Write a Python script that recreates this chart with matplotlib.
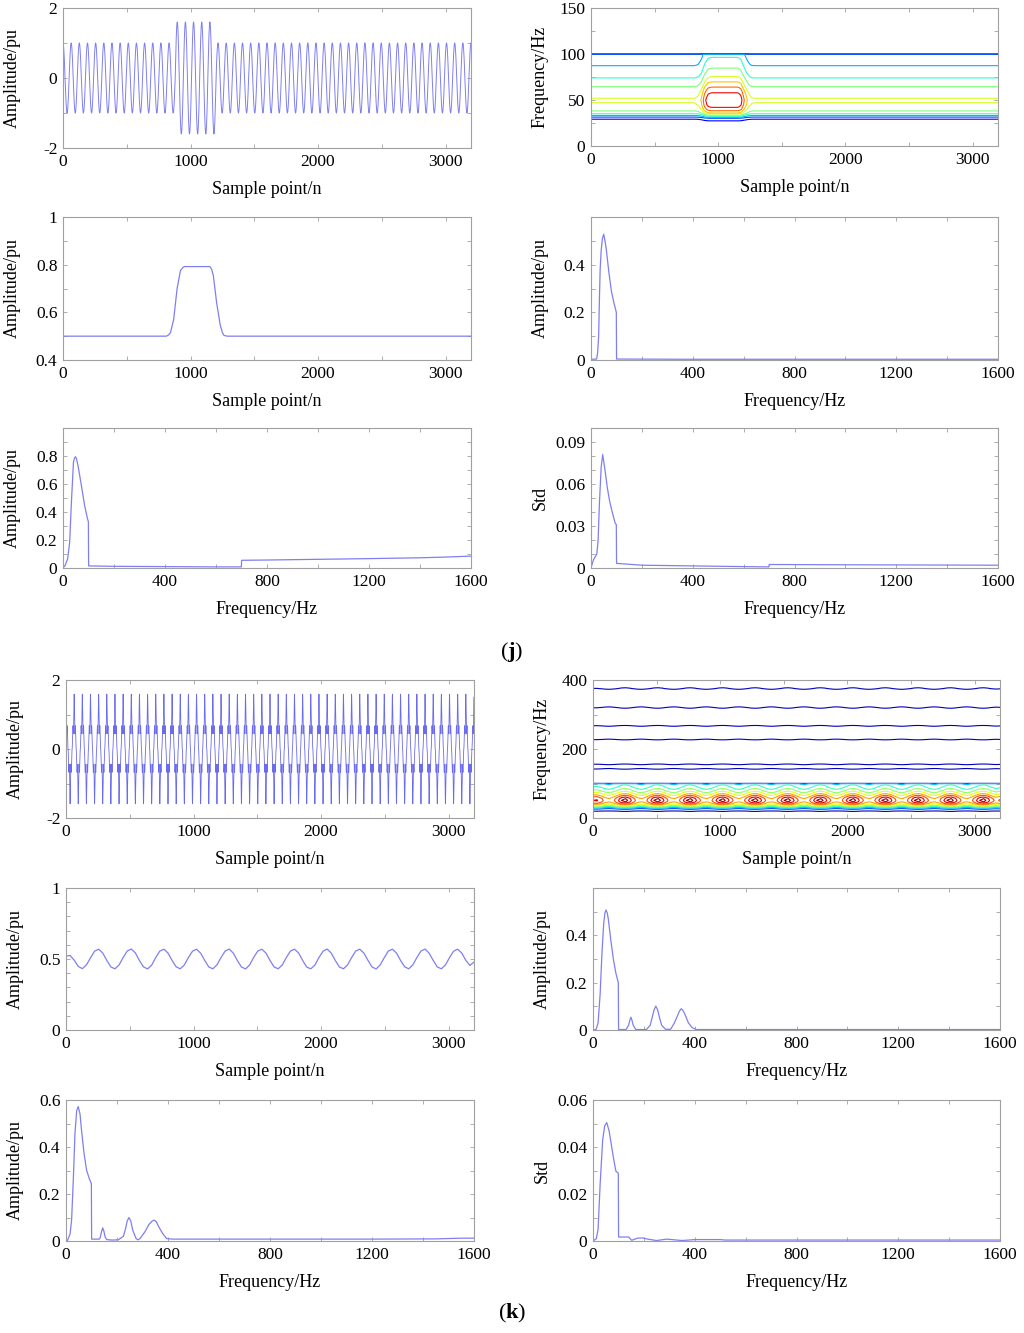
import numpy as np
import matplotlib
matplotlib.use('Agg')
import matplotlib.pyplot as plt
from matplotlib.ticker import MultipleLocator, FixedLocator, FuncFormatter

plt.rcParams['font.family'] = ['Liberation Serif', 'DejaVu Serif']
plt.rcParams['mathtext.fontset'] = 'custom'
plt.rcParams['mathtext.rm'] = 'Liberation Serif'
plt.rcParams['mathtext.bf'] = 'Liberation Serif:bold'
plt.rcParams['axes.unicode_minus'] = False

# ------------------------------------------------------------------ data
fs = 3200
n_samples = 3200

# (j) voltage swell: signal parameters
j_f0 = 50
j_amp = 1.0
j_swell_amp = 1.6
j_swell_start = 880
j_swell_end = 1200

# (j) amplitude of the fundamental versus time
j_env_t = [0, 811, 828, 843, 868, 895, 921, 940, 953, 1152, 1166, 1179, 1205, 1232, 1250, 1263, 1289, 3200]
j_env_v = [0.5, 0.5, 0.505, 0.515, 0.57, 0.70, 0.775, 0.788, 0.792, 0.792, 0.78, 0.755, 0.64, 0.55, 0.515, 0.503, 0.5, 0.5]

# (j) mean amplitude versus frequency
j_mean_f = [0, 22, 26, 30, 33, 36, 40, 45, 50, 55, 60, 70, 80, 90, 99.5, 100.5, 400, 800, 1200, 1600]
j_mean_v = [0.003, 0.004, 0.03, 0.10, 0.25, 0.38, 0.46, 0.51, 0.528, 0.50, 0.465, 0.37, 0.29, 0.24, 0.20, 0.004, 0.003, 0.003, 0.003, 0.003]

# (j) maximum amplitude versus frequency
j_max_f = [0, 8, 18, 26, 33, 41, 45, 49, 53, 59, 72, 85, 95, 99.5, 100.5, 200, 400, 600, 699.5, 700.5, 800, 1000, 1200, 1400, 1500, 1600]
j_max_v = [0.0, 0.017, 0.064, 0.18, 0.47, 0.755, 0.785, 0.795, 0.78, 0.73, 0.59, 0.445, 0.36, 0.33, 0.015, 0.012, 0.010, 0.008, 0.008, 0.055, 0.057, 0.062, 0.067, 0.073, 0.078, 0.085]

# (j) standard deviation versus frequency
j_std_f = [0, 10, 23, 28, 33, 40, 46, 55, 64, 73, 82, 95, 99.5, 100.5, 200, 400, 600, 699.5, 700.5, 1000, 1600]
j_std_v = [0.0, 0.006, 0.010, 0.020, 0.046, 0.072, 0.081, 0.070, 0.0575, 0.048, 0.041, 0.032, 0.031, 0.0033, 0.0020, 0.0015, 0.0010, 0.0008, 0.0025, 0.0023, 0.0020]

j_levels = [0.08, 0.16, 0.24, 0.32, 0.40, 0.49, 0.56, 0.64, 0.72]

# (k) harmonics: signal parameters
k_f0 = 50
k_orders = [1, 3, 5, 7]
k_amps = [1.0, 0.12, 0.25, 0.22]

# (k) amplitude of the fundamental versus time (every 32 samples)
k_env_t = list(range(0, 3201, 32))
k_env_v = [0.520, 0.525, 0.492, 0.448, 0.432, 0.458, 0.508, 0.555,
           0.569, 0.542, 0.490, 0.444, 0.431, 0.458, 0.510, 0.556,
           0.570, 0.543, 0.489, 0.444, 0.430, 0.457, 0.511, 0.556,
           0.569, 0.542, 0.490, 0.445, 0.431, 0.458, 0.510, 0.555,
           0.569, 0.541, 0.490, 0.444, 0.431, 0.459, 0.510, 0.556,
           0.570, 0.542, 0.489, 0.444, 0.430, 0.458, 0.511, 0.556,
           0.569, 0.542, 0.490, 0.444, 0.431, 0.458, 0.510, 0.556,
           0.569, 0.543, 0.490, 0.443, 0.431, 0.457, 0.510, 0.555,
           0.570, 0.542, 0.490, 0.444, 0.431, 0.458, 0.510, 0.556,
           0.569, 0.542, 0.491, 0.444, 0.430, 0.458, 0.509, 0.556,
           0.569, 0.542, 0.490, 0.445, 0.431, 0.458, 0.510, 0.556,
           0.570, 0.541, 0.490, 0.444, 0.431, 0.458, 0.510, 0.555,
           0.569, 0.542, 0.490, 0.455, 0.478]

# (k) mean amplitude versus frequency
k_mean_f = [0, 12, 20, 28, 35, 42, 47, 51, 56, 60, 70, 80, 90, 99.5, 100.5, 130, 140, 145, 149, 153, 158, 168, 210,
            225, 232, 240, 247, 254, 262, 270, 285, 305, 320, 330, 340, 347, 354, 362, 375, 390, 405, 800, 1200, 1600]
k_mean_v = [0, 0.002, 0.03, 0.15, 0.32, 0.45, 0.495, 0.507, 0.495, 0.47, 0.38, 0.30, 0.24, 0.20, 0.002, 0.002, 0.02, 0.042, 0.054, 0.042, 0.02, 0.002, 0.002,
            0.02, 0.05, 0.085, 0.101, 0.085, 0.05, 0.02, 0.003, 0.003, 0.03, 0.055, 0.08, 0.09, 0.082, 0.065, 0.03, 0.01, 0.002, 0.002, 0.002, 0.002]

# (k) maximum amplitude versus frequency
k_max_f = [0, 5, 16, 22, 29, 35, 42, 48, 55, 61, 71, 81, 91.5, 99.5, 100.5, 130, 134, 139, 144, 149, 154, 160, 180, 205,
           225, 233, 240, 247, 254, 262, 275, 282, 290, 310, 325, 338, 346, 354, 364, 380, 395, 420, 800, 1200, 1450, 1550, 1600]
k_max_v = [0, 0.0, 0.03, 0.09, 0.27, 0.456, 0.555, 0.572, 0.54, 0.47, 0.37, 0.30, 0.265, 0.244, 0.008, 0.008, 0.014, 0.038, 0.056, 0.04, 0.015, 0.006, 0.004, 0.005,
           0.02, 0.05, 0.085, 0.10, 0.085, 0.045, 0.01, 0.005, 0.01, 0.04, 0.07, 0.085, 0.089, 0.082, 0.06, 0.03, 0.01, 0.008, 0.008, 0.008, 0.009, 0.012, 0.012]

# (k) standard deviation versus frequency
k_std_f = [0, 13, 20, 28, 38, 46, 54, 63, 72, 81, 90, 98, 99.5, 100.5, 140, 152, 175, 195, 215, 250, 290, 310, 350, 400, 450, 500, 520, 1600]
k_std_v = [0, 0.001, 0.005, 0.024, 0.043, 0.049, 0.0504, 0.047, 0.041, 0.035, 0.0297, 0.029, 0.0285, 0.0017, 0.0017, 0.0003, 0.0012, 0.0013, 0.0008, 0.0002, 0.0008, 0.0006, 0.0002, 0.0006, 0.0006, 0.0006, 0.0004, 0.0004]

k_levels = [0.03, 0.12, 0.18, 0.24, 0.30, 0.36, 0.42, 0.47, 0.52, 0.555]

# ------------------------------------------------------------------ derived
n = np.arange(n_samples)
j_gain = np.where((n >= j_swell_start) & (n < j_swell_end), j_swell_amp, j_amp)
j_signal = j_gain * np.cos(2 * np.pi * j_f0 * n / fs)
k_signal = sum(a * np.cos(2 * np.pi * h * k_f0 * n / fs) for h, a in zip(k_orders, k_amps))

j_shape = np.array(j_mean_v) / max(j_mean_v)
j_Z = np.outer(j_shape, np.array(j_env_v))
k_shape = np.array(k_mean_v) / max(k_mean_v)
k_Z = np.outer(k_shape, np.array(k_env_v))

# ------------------------------------------------------------------ figure
W, H = 1024, 1333
fig = plt.figure(figsize=(W / 100, H / 100), dpi=100)
LINE = '#7f7ff2'
FRAME = '#a0a0a0'
FS = 12.5


def add_ax(l, t, r, b):
    return fig.add_axes([l / W, 1 - b / H, (r - l) / W, (b - t) / H])


def fmt(v, pos):
    s = ('%.2f' % v).rstrip('0').rstrip('.')
    return '0' if s in ('-0', '') else s


def style(ax, xlim, xmaj, xmin, ylim, yticks, ymin, xlabel, ylabel, hpx):
    ax.set_xlim(*xlim)
    ax.set_ylim(*ylim)
    ax.xaxis.set_major_locator(MultipleLocator(xmaj))
    ax.xaxis.set_minor_locator(MultipleLocator(xmin))
    ax.yaxis.set_major_locator(FixedLocator(yticks))
    ax.yaxis.set_minor_locator(MultipleLocator(ymin))
    ax.xaxis.set_major_formatter(FuncFormatter(fmt))
    ax.yaxis.set_major_formatter(FuncFormatter(fmt))
    for sp in ax.spines.values():
        sp.set_color(FRAME)
        sp.set_linewidth(0.8)
    ax.tick_params(which='both', direction='in', top=True, right=True,
                   color=FRAME, labelsize=FS, width=0.6)
    ax.tick_params(which='major', length=3.2, pad=4)
    ax.tick_params(which='minor', length=3.2)
    ax.set_xlabel(xlabel, fontsize=FS + 0.5)
    ax.set_ylabel(ylabel, fontsize=FS + 0.5)
    ax.xaxis.set_label_coords(0.5, -33 / hpx)
    ax.yaxis.set_label_coords(-0.104, 0.5)


LX = (63, 471)
RX = (591, 998)
LXk = (66, 474)
RXk = (593, 1000)

# ---- (j) row 1
ax = add_ax(LX[0], 8, LX[1], 148)
ax.plot(n, j_signal, color=LINE, lw=0.7)
style(ax, (0, 3200), 1000, 500, (-2, 2), [-2, 0, 2], 1, 'Sample point/n', 'Amplitude/pu', 140)

ax = add_ax(RX[0], 8, RX[1], 146)
ax.contour(j_env_t, j_mean_f, j_Z, levels=j_levels, cmap='jet', vmin=0, vmax=0.8, linewidths=0.8)
style(ax, (0, 3200), 1000, 500, (0, 150), [0, 50, 100, 150], 25, 'Sample point/n', 'Frequency/Hz', 138)

# ---- (j) row 2
ax = add_ax(LX[0], 217, LX[1], 360)
ax.plot(j_env_t, j_env_v, color=LINE, lw=0.9)
style(ax, (0, 3200), 1000, 500, (0.4, 1.0), [0.4, 0.6, 0.8, 1.0], 0.1, 'Sample point/n', 'Amplitude/pu', 143)

ax = add_ax(RX[0], 217, RX[1], 360)
ax.plot(j_mean_f, j_mean_v, color=LINE, lw=0.9)
style(ax, (0, 1600), 400, 200, (0, 0.6), [0, 0.2, 0.4], 0.1, 'Frequency/Hz', 'Amplitude/pu', 143)

# ---- (j) row 3
ax = add_ax(LX[0], 428, LX[1], 568)
ax.plot(j_max_f, j_max_v, color=LINE, lw=0.9)
style(ax, (0, 1600), 400, 200, (0, 1.0), [0, 0.2, 0.4, 0.6, 0.8], 0.1, 'Frequency/Hz', 'Amplitude/pu', 140)

ax = add_ax(RX[0], 428, RX[1], 568)
ax.plot(j_std_f, j_std_v, color=LINE, lw=0.9)
style(ax, (0, 1600), 400, 200, (0, 0.1), [0, 0.03, 0.06, 0.09], 0.01, 'Frequency/Hz', 'Std', 140)

fig.text(512 / W, 1 - 652 / H, r'($\mathbf{j}$)', ha='center', va='center', fontsize=16)

# ---- (k) row 1
ax = add_ax(LXk[0], 680, LXk[1], 818)
ax.plot(n, k_signal, color='#6b6bef', lw=0.6)
style(ax, (0, 3200), 1000, 500, (-2, 2), [-2, 0, 2], 1, 'Sample point/n', 'Amplitude/pu', 138)

ax = add_ax(RXk[0], 680, RXk[1], 818)
ax.contour(k_env_t, k_mean_f, k_Z, levels=k_levels, cmap='jet', vmin=0, vmax=0.57, linewidths=0.8)
style(ax, (0, 3200), 1000, 500, (0, 400), [0, 200, 400], 100, 'Sample point/n', 'Frequency/Hz', 138)

# ---- (k) row 2
ax = add_ax(LXk[0], 888, LXk[1], 1030)
ax.plot(k_env_t, k_env_v, color=LINE, lw=0.9)
style(ax, (0, 3200), 1000, 500, (0, 1.0), [0, 0.5, 1.0], 0.1, 'Sample point/n', 'Amplitude/pu', 142)

ax = add_ax(RXk[0], 888, RXk[1], 1030)
ax.plot(k_mean_f, k_mean_v, color=LINE, lw=0.9)
style(ax, (0, 1600), 400, 200, (0, 0.6), [0, 0.2, 0.4], 0.1, 'Frequency/Hz', 'Amplitude/pu', 142)

# ---- (k) row 3
ax = add_ax(LXk[0], 1100, LXk[1], 1241)
ax.plot(k_max_f, k_max_v, color=LINE, lw=0.9)
style(ax, (0, 1600), 400, 200, (0, 0.6), [0, 0.2, 0.4, 0.6], 0.1, 'Frequency/Hz', 'Amplitude/pu', 141)

ax = add_ax(RXk[0], 1100, RXk[1], 1241)
ax.plot(k_std_f, k_std_v, color=LINE, lw=0.9)
style(ax, (0, 1600), 400, 200, (0, 0.06), [0, 0.02, 0.04, 0.06], 0.01, 'Frequency/Hz', 'Std', 141)

fig.text(512 / W, 1 - 1313 / H, r'($\mathbf{k}$)', ha='center', va='center', fontsize=16)

fig.savefig('out.png', dpi=100, facecolor='white')
